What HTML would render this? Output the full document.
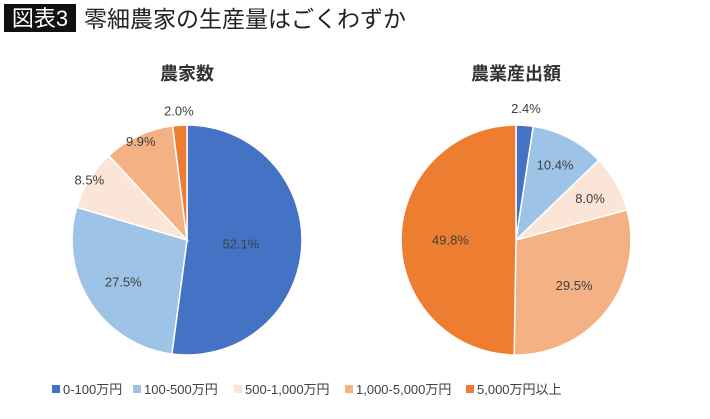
<!DOCTYPE html>
<html><head><meta charset="utf-8"><style>
body{margin:0;width:710px;height:414px;background:#fff;overflow:hidden;font-family:"Liberation Sans","Noto Sans CJK JP",sans-serif;}
</style></head><body>
<svg width="710" height="414" xmlns="http://www.w3.org/2000/svg">
<rect x="4" y="4" width="72" height="28" fill="#111"/>
<text x="40" y="26" fill="#fff" font-size="22" text-anchor="middle" font-family="Liberation Sans,Noto Sans CJK JP,sans-serif">図表3</text>
<text x="84" y="27" fill="#222" font-size="23" font-family="Liberation Sans,Noto Sans CJK JP,sans-serif">零細農家の生産量はごくわずか</text>
<g id="pies"></g>
<g id="legend"></g>
</svg>
<script>
const categories=["0-100万円","100-500万円","500-1,000万円","1,000-5,000万円","5,000万円以上"];
const farmsValues=[52.1,27.5,8.5,9.9,2.0];
const outputValues=[2.4,10.4,8.0,29.5,49.8];
const pieTitles=["農家数","農業産出額"];
const colors=["#4472C4","#9DC3E6","#FBE5D6","#F4B183","#ED7D31"];
const NS="http://www.w3.org/2000/svg";
const pies=document.getElementById('pies');
function mk(t,a,p){const e=document.createElementNS(NS,t);for(const k in a)e.setAttribute(k,a[k]);p.appendChild(e);return e;}
function drawPie(vals,cx,cy,r,title,labelFr,key){
  const g=mk('g',{},pies);
  
  
  const t=mk('text',{x:cx,y:80,'font-size':18,'font-weight':'bold','text-anchor':'middle',fill:'#333'},g);
  t.textContent=title;
  
  
  const total=vals.reduce((a,b)=>a+b,0);
  let cum=0;
  vals.forEach((v,i)=>{
    const a0=cum/total*2*Math.PI, a1=(cum+v)/total*2*Math.PI;
    const x0=cx+r*Math.sin(a0),y0=cy-r*Math.cos(a0),x1=cx+r*Math.sin(a1),y1=cy-r*Math.cos(a1);
    const large=(a1-a0)>Math.PI?1:0;
    const p=mk('path',{d:`M${cx},${cy}L${x0},${y0}A${r},${r} 0 ${large} 1 ${x1},${y1}Z`,fill:colors[i],stroke:'#fff','stroke-width':1.5},g);
    
    
    const am=(a0+a1)/2, lr=r*labelFr[i];
    const l=mk('text',{x:cx+lr*Math.sin(am),y:cy-lr*Math.cos(am)+5,'font-size':13,'text-anchor':'middle',fill:'#404040'},g);
    l.textContent=v.toFixed(1)+'%';
    
    
    cum+=v;
  });
}
drawPie(farmsValues,187,240,115,pieTitles[0],[0.47,0.66,1.0,0.95,1.13],'farms');
drawPie(outputValues,516,240,115,pieTitles[1],[1.15,0.74,0.74,0.64,0.57],'output');
const lg=document.getElementById('legend');
const lx=[52,133,234,345,466];
categories.forEach((c,i)=>{
  const g=mk('g',{},lg);
  
  
  mk('rect',{x:lx[i],y:385,width:8,height:8,fill:colors[i]},g);
  const t=mk('text',{x:lx[i]+11,y:394,'font-size':13,fill:'#404040'},g);
  t.textContent=c;
});
</script>
</body></html>
